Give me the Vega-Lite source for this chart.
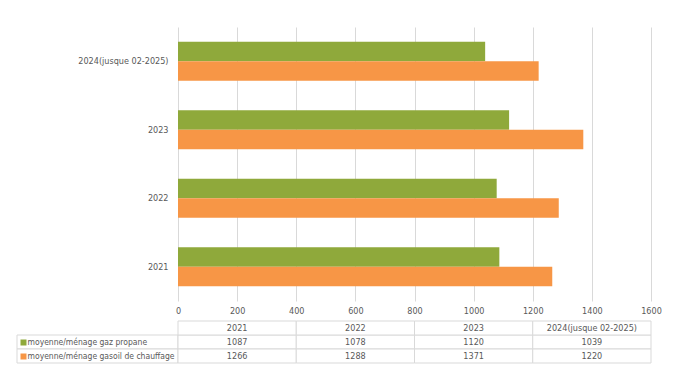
{
  "$schema": "https://vega.github.io/schema/vega-lite/v6.json",
  "padding": {"left": 16, "top": 27, "right": 5, "bottom": 5},
  "config": {
    "view": {"stroke": null},
    "font": "DejaVu Sans Condensed, sans-serif"
  },
  "datasets": {
    "d": [
      {"annee": "2021", "serie": "moyenne/ménage gaz propane", "valeur": 1087},
      {"annee": "2022", "serie": "moyenne/ménage gaz propane", "valeur": 1078},
      {"annee": "2023", "serie": "moyenne/ménage gaz propane", "valeur": 1120},
      {"annee": "2024(jusque 02-2025)", "serie": "moyenne/ménage gaz propane", "valeur": 1039},
      {"annee": "2021", "serie": "moyenne/ménage gasoil de chauffage", "valeur": 1266},
      {"annee": "2022", "serie": "moyenne/ménage gasoil de chauffage", "valeur": 1288},
      {"annee": "2023", "serie": "moyenne/ménage gasoil de chauffage", "valeur": 1371},
      {"annee": "2024(jusque 02-2025)", "serie": "moyenne/ménage gasoil de chauffage", "valeur": 1220}
    ]
  },
  "columns": 2,
  "spacing": {"row": 20, "column": 0},
  "bounds": "flush",
  "concat": [
    {
      "width": 161,
      "height": 274,
      "data": {"values": []},
      "mark": "point"
    },
    {
      "width": 473,
      "height": 274,
      "data": {"name": "d"},
      "mark": "bar",
      "encoding": {
        "y": {
          "field": "annee", "type": "nominal",
          "scale": {"domain": ["2024(jusque 02-2025)", "2023", "2022", "2021"], "paddingInner": 0.43, "paddingOuter": 0.215},
          "axis": {"title": null, "ticks": false, "tickSize": 0, "domain": false, "labelPadding": 10, "labelFontSize": 9, "labelColor": "#595959"}
        },
        "x": {
          "field": "valeur", "type": "quantitative",
          "scale": {"domain": [0, 1600], "nice": false},
          "axis": {"title": null, "values": [0, 200, 400, 600, 800, 1000, 1200, 1400, 1600], "format": "d", "domain": false, "ticks": false, "tickSize": 0, "gridColor": "#d9d9d9", "labelPadding": 5, "labelFlush": false, "labelColor": "#595959", "labelFontSize": 9}
        },
        "yOffset": {
          "field": "serie", "type": "nominal",
          "sort": ["moyenne/ménage gaz propane", "moyenne/ménage gasoil de chauffage"],
          "scale": {"paddingInner": 0, "paddingOuter": 0}
        },
        "color": {
          "field": "serie", "type": "nominal",
          "scale": {"domain": ["moyenne/ménage gaz propane", "moyenne/ménage gasoil de chauffage"], "range": ["#8FA93B", "#F79646"]},
          "legend": null
        }
      }
    },
    {
      "width": 161,
      "height": 42,
      "data": {"name": "d"},
      "transform": [{"filter": "datum.annee === '2021'"}],
      "mark": {"type": "rect", "fill": "white", "stroke": "#d9d9d9", "strokeWidth": 1},
      "encoding": {
        "y": {
          "field": "serie", "type": "nominal",
          "scale": {"domain": ["entete", "moyenne/ménage gaz propane", "moyenne/ménage gasoil de chauffage"], "paddingInner": 0, "paddingOuter": 0},
          "axis": {
            "title": null,
            "values": ["moyenne/ménage gaz propane", "moyenne/ménage gasoil de chauffage"],
            "domain": false,
            "offset": -9,
            "tickSize": 6,
            "tickWidth": 6,
            "tickCap": "butt",
            "tickColor": {"condition": {"test": "datum.value === 'moyenne/ménage gaz propane'", "value": "#8FA93B"}, "value": "#F79646"},
            "labelAlign": "left",
            "labelPadding": -7,
            "labelColor": "#595959",
            "labelFontSize": 8.5,
            "labelLimit": 200,
            "minExtent": 0
          }
        }
      }
    },
    {
      "width": 473,
      "height": 42,
      "data": {"name": "d"},
      "encoding": {
        "x": {
          "field": "annee", "type": "nominal",
          "scale": {"domain": ["2021", "2022", "2023", "2024(jusque 02-2025)"], "paddingInner": 0, "paddingOuter": 0},
          "axis": null
        }
      },
      "layer": [
        {
          "mark": {"type": "rect", "fill": "white", "stroke": "#d9d9d9", "strokeWidth": 1},
          "encoding": {
            "y": {
              "field": "serie", "type": "nominal",
              "scale": {"domain": ["entete", "moyenne/ménage gaz propane", "moyenne/ménage gasoil de chauffage"], "paddingInner": 0, "paddingOuter": 0},
              "axis": null
            }
          }
        },
        {
          "mark": {"type": "text", "color": "#595959", "fontSize": 9},
          "encoding": {
            "y": {"field": "serie", "type": "nominal"},
            "text": {"field": "valeur", "type": "quantitative", "format": "d"}
          }
        },
        {
          "transform": [{"filter": "datum.serie === 'moyenne/ménage gaz propane'"}],
          "mark": {"type": "rect", "fill": "white", "stroke": "#d9d9d9", "strokeWidth": 1},
          "encoding": {"y": {"datum": "entete", "type": "nominal"}}
        },
        {
          "transform": [{"filter": "datum.serie === 'moyenne/ménage gaz propane'"}],
          "mark": {"type": "text", "color": "#595959", "fontSize": 9},
          "encoding": {
            "y": {"datum": "entete", "type": "nominal"},
            "text": {"field": "annee", "type": "nominal"}
          }
        }
      ]
    }
  ]
}
